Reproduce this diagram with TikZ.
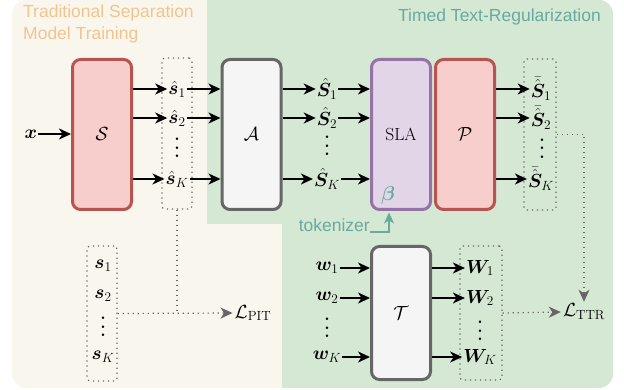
\documentclass[tikz,border=0pt]{standalone}
\usepackage{fix-cm}
\usepackage{amsmath,bm}
\usepackage{fontspec}
\newfontfamily\hvf{Liberation Sans}
\usetikzlibrary{arrows.meta}
\definecolor{bgbeige}{HTML}{F9F6EE}
\definecolor{bggreen}{HTML}{D5E8D4}
\definecolor{ttlorange}{HTML}{F2C58E}
\definecolor{ttlteal}{HTML}{67AB9F}
\definecolor{redD}{HTML}{B85450}
\definecolor{redF}{HTML}{F8CECC}
\definecolor{grayD}{HTML}{666666}
\definecolor{grayF}{HTML}{F5F5F5}
\definecolor{purD}{HTML}{9673A6}
\definecolor{purF}{HTML}{E1D5E7}
\newcommand{\myvdots}{\vbox{\baselineskip=8.5pt\lineskiplimit=0pt\hbox{\textbf{.}}\hbox{\textbf{.}}\hbox{\textbf{.}}}}
\begin{document}
\begin{tikzpicture}[x=1pt,y=-1pt,
  font=\fontsize{19}{22}\selectfont,
  box/.style={rounded corners=8pt, line width=3pt, minimum width=59pt, minimum height=150pt, inner sep=0pt},
  redbox/.style={box, draw=redD, fill=redF},
  graybox/.style={box, draw=grayD, fill=grayF},
  purbox/.style={box, draw=purD, fill=purF},
  grp/.style={draw=grayD, line width=1.2pt, dash pattern=on 1.2pt off 3.8pt, rounded corners=3pt, inner sep=0pt},
  lab/.style={inner sep=1pt},
  arr/.style={line width=1.6pt, -{Stealth[length=12pt,width=11pt,inset=3.5pt]}},
  dline/.style={draw=grayD, line width=1.2pt, dash pattern=on 1.2pt off 3.8pt},
  dcon/.style={dline, -{Stealth[length=12pt,width=11pt,inset=3.5pt,fill=grayD]}},
  ttl/.style={font=\hvf\fontsize{17.5}{21}\selectfont, inner sep=0pt},
  dotsn/.style={inner sep=0pt, font=\fontsize{17.5}{21}\selectfont}
]
\useasboundingbox (0,0) rectangle (624,390);
% backgrounds
\fill[bgbeige, rounded corners=14pt] (12,0) rectangle (613,388);
\begin{scope}
  \clip (207,-5) rectangle (630,224) (282,224) rectangle (630,395);
  \fill[bggreen, rounded corners=14pt] (150,0) rectangle (613,388);
\end{scope}
% titles
\node[ttl, text=ttlorange, anchor=base west] (t1) at (23,18) {Traditional Separation};
\node[ttl, text=ttlorange, anchor=base west] (t2) at (23,40) {Model Training};
\node[ttl, text=ttlteal, anchor=base east] (t3) at (601,22) {Timed Text-Regularization};
% boxes
\node[redbox] (S) at (102,134.5) {$\mathcal S$};
\node[graybox] (A) at (251.5,134.5) {$\mathcal A$};
\node[purbox, font=\fontsize{17.5}{21}\selectfont] (SLA) at (401,134.5) {SLA};
\node[redbox] (P) at (465,134.5) {$\mathcal P$};
\node[graybox, minimum height=133pt] (T) at (401,313) {$\mathcal T$};
% dotted group boxes
\node[grp, minimum width=30pt, minimum height=151pt] (gs) at (177,133.5) {};
\node[grp, minimum width=32pt, minimum height=151pt] (gS) at (540,134.5) {};
\node[grp, minimum width=30pt, minimum height=135pt] (gst) at (102,313.5) {};
\node[grp, minimum width=42pt, minimum height=134pt] (gW) at (481,313) {};
% input
\node[lab] (x) at (31,134) {$\bm x$};
\draw[arr] (x.east) -- (S.west |- x);
% s-hat
\node[lab] (sh1) at (177,89) {$\hat{\bm s}_1$};
\node[lab] (sh2) at (177,118) {$\hat{\bm s}_2$};
\node[dotsn] (shd) at (177,148) {\myvdots};
\node[lab] (shK) at (177,179) {$\hat{\bm s}_K$};
\foreach \n in {sh1,sh2,shK}{
  \draw[arr] (S.east |- \n) -- (\n.west);
  \draw[arr] (\n.east) -- (A.west |- \n);
}
% S-hat
\node[lab] (Sh1) at (327,89) {$\hat{\bm S}_1$};
\node[lab] (Sh2) at (327,118) {$\hat{\bm S}_2$};
\node[dotsn] (Shd) at (327,146) {\myvdots};
\node[lab] (ShK) at (327,179) {$\hat{\bm S}_K$};
\foreach \n in {Sh1,Sh2,ShK}{
  \draw[arr] (A.east |- \n) -- (\n.west);
  \draw[arr] (\n.east) -- (SLA.west |- \n);
}
% S-bar
\node[lab] (Sb1) at (541,89) {$\bar{\hat{\bm S}}_1$};
\node[lab] (Sb2) at (541,118) {$\bar{\hat{\bm S}}_2$};
\node[dotsn] (Sbd) at (542,148.5) {\myvdots};
\node[lab] (SbK) at (541,179) {$\bar{\hat{\bm S}}_K$};
\foreach \n in {Sb1,Sb2,SbK}{
  \draw[arr] (P.east |- \n) -- (\n.west);
}
% beta and tokenizer
\node[inner sep=0pt, text=ttlteal, font=\fontsize{20}{24}\selectfont] (beta) at (388,196) {$\bm\beta$};
\node[ttl, text=ttlteal, anchor=base east] (tok) at (370,232) {tokenizer};
\coordinate (tkx) at (389,0);
\draw[ttlteal, line width=1.5pt, -{Stealth[length=11pt,width=10pt,inset=3pt]}, shorten >=1.5pt] (tok.base east) -| (tkx |- SLA.south);
% w inputs
\node[lab] (w1) at (327,268) {$\bm w_1$};
\node[lab] (w2) at (327,298) {$\bm w_2$};
\node[dotsn] (wd) at (327,328) {\myvdots};
\node[lab] (wK) at (327,357) {$\bm w_K$};
\foreach \n in {w1,w2,wK}{
  \draw[arr] (\n.east) -- (T.west |- \n);
}
% W outputs
\node[lab] (W1) at (480,268) {$\bm W_1$};
\node[lab] (W2) at (480,298) {$\bm W_2$};
\node[dotsn] (Wd) at (480,331) {\myvdots};
\node[lab] (WK) at (480,357) {$\bm W_K$};
\foreach \n in {W1,W2,WK}{
  \draw[arr] (T.east |- \n) -- (\n.west);
}
% references s
\node[lab] (s1) at (103,266) {$\bm s_1$};
\node[lab] (s2) at (103,296) {$\bm s_2$};
\node[dotsn] (sd) at (103,327) {\myvdots};
\node[lab] (sK) at (103,357) {$\bm s_K$};
% losses
\node[inner sep=2pt] (LPIT) at (253,313) {$\mathcal L_{\mathrm{PIT}}$};
\node[inner sep=2pt] (LTTR) at (584,312) {$\mathcal L_{\mathrm{TTR}}$};
\draw[dcon] (gst.east) -- (LPIT.west);
\draw[dline] (gs.south) -- (gs.south |- gst.east);
\draw[dcon] (gS.east) -| (LTTR.north);
\draw[dcon] (gW.east) -- (LTTR.west);
\end{tikzpicture}
\end{document}
